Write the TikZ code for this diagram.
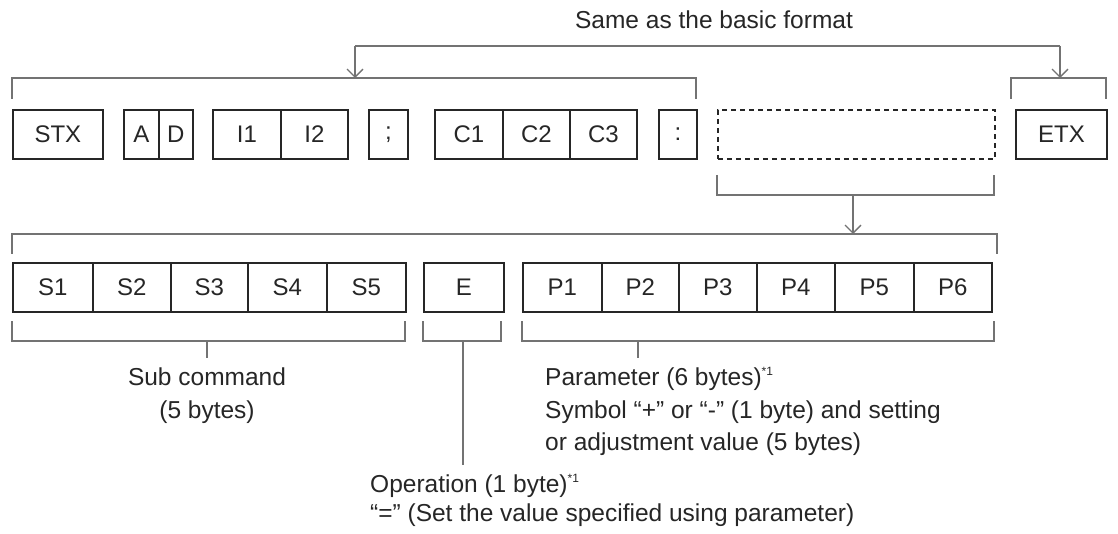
\documentclass[tikz,border=0pt]{standalone}
\usepackage{fontspec}
\setmainfont{Liberation Sans}
\usetikzlibrary{arrows.meta}
\begin{document}
\begin{tikzpicture}[x=1pt,y=-1pt,
  cell/.style={draw=black!85,line width=1.8pt,minimum height=49pt,inner sep=0pt,font=\fontsize{24}{26}\selectfont,anchor=north west,text=black!85},
  brk/.style={draw=black!55,line width=1.3pt},
  arr/.style={brk,-{Straight Barb[length=8pt,width=16pt,line width=1.3pt]}},
  lbl/.style={font=\fontsize{24.5}{28}\selectfont,inner sep=0pt,text=black!85}]
\useasboundingbox (0,0) rectangle (1118,534);
% top row
\node[cell,minimum width=90] (stx) at (12,109) {STX};
\node[cell,minimum width=35] (a) at (123,109) {A};
\node[cell,minimum width=34] (d) at (158,109) {D};
\node[cell,minimum width=68] (i1) at (212,109) {I1};
\node[cell,minimum width=67] (i2) at (280,109) {I2};
\node[cell,minimum width=39] (semi) at (368,109) {;};
\node[cell,minimum width=68] (c1) at (434,109) {C1};
\node[cell,minimum width=67] (c2) at (502,109) {C2};
\node[cell,minimum width=67] (c3) at (569,109) {C3};
\node[cell,minimum width=38] (colon) at (658,109) {:};
\node[cell,minimum width=277,dashed,dash pattern=on 5pt off 4pt] (dash) at (717,109) {};
\node[cell,minimum width=91] (etx) at (1015,109) {ETX};
% top brackets
\coordinate (tbl) at (12,99); \coordinate (tbr) at (696,99);
\draw[brk] (tbl) |- (354,78) -| (tbr);
\coordinate (ebl) at (1011,99); \coordinate (ebr) at (1106,99);
\draw[brk] (ebl) |- (1060,78) -| (ebr);
\node[lbl,anchor=base] (same) at (714,29) {Same as the basic format};
\coordinate (ta) at (355,78); \coordinate (tb) at (1060,78);
\draw[brk] (355,46) -- (1060,46);
\draw[arr] (355,46) -- (ta);
\draw[arr] (1060,46) -- (tb);
% bracket under dashed
\coordinate (dbl) at (717,175); \coordinate (dbr) at (994,175);
\draw[brk] (dbl) |- (994,195) -- (dbr);
\coordinate (bb) at (853,234);
\draw[arr] (853,195) -- (bb);
% bottom row
\node[cell,minimum width=80] (s1) at (12,262) {S1};
\node[cell,minimum width=78] (s2) at (92,262) {S2};
\node[cell,minimum width=77] (s3) at (170,262) {S3};
\node[cell,minimum width=79] (s4) at (247,262) {S4};
\node[cell,minimum width=79] (s5) at (326,262) {S5};
\node[cell,minimum width=80] (e) at (423,262) {E};
\node[cell,minimum width=79] (p1) at (522,262) {P1};
\node[cell,minimum width=77] (p2) at (601,262) {P2};
\node[cell,minimum width=78] (p3) at (678,262) {P3};
\node[cell,minimum width=78] (p4) at (756,262) {P4};
\node[cell,minimum width=79] (p5) at (834,262) {P5};
\node[cell,minimum width=78] (p6) at (913,262) {P6};
\coordinate (bl) at (12,254); \coordinate (br) at (997,254);
\draw[brk] (bl) |- (997,234) -- (br);
% lower brackets
\draw[brk] (12,321) |- (405,341) -- (405,321);
\draw[brk] (423,321) |- (501,341) -- (501,321);
\draw[brk] (522,321) |- (994,341) -- (994,321);
% labels
\node[lbl,anchor=base] (sub) at (207,385) {Sub command};
\node[lbl,anchor=base] (sub2) at (207,418) {(5 bytes)};
\draw[brk] (207,341) -- (207,358);
\node[lbl,anchor=base west] (par) at (545,385) {Parameter (6 bytes)\textsuperscript{\fontsize{12}{12}\selectfont *1}};
\node[lbl,anchor=base west] (par2) at (545,418) {Symbol “+” or “-” (1 byte) and setting};
\node[lbl,anchor=base west] (par3) at (545,450) {or adjustment value (5 bytes)};
\draw[brk] (638,341) -- (638,358);
\node[lbl,anchor=base west] (op) at (370,492) {Operation (1 byte)\textsuperscript{\fontsize{12}{12}\selectfont *1}};
\node[lbl,anchor=base west] (op2) at (370,521) {“=” (Set the value specified using parameter)};
\draw[brk] (463,341) -- (463,465);
\end{tikzpicture}
\end{document}
